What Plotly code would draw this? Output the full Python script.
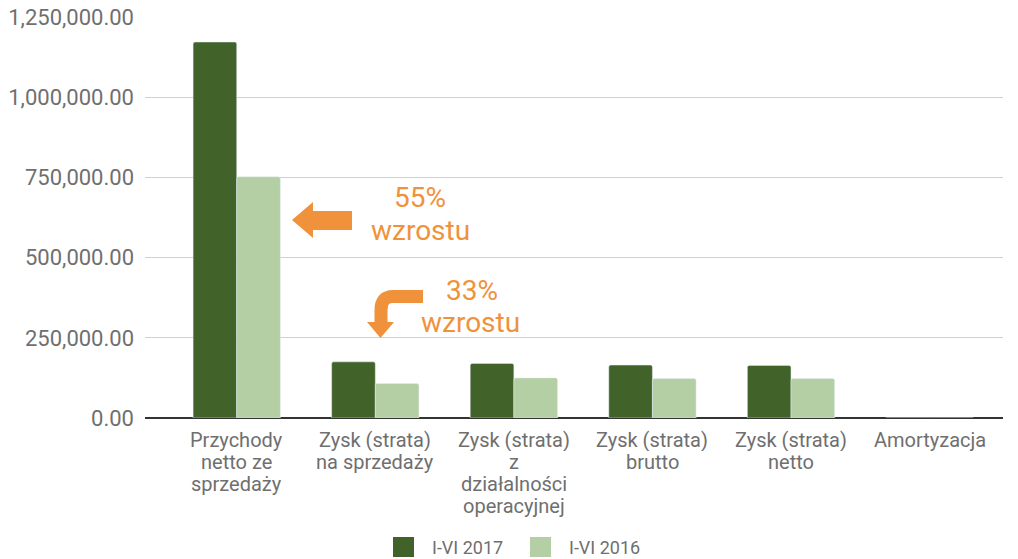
import plotly.graph_objects as go

categories = [
    "Przychody<br>netto ze<br>sprzedaży",
    "Zysk (strata)<br>na sprzedaży",
    "Zysk (strata)<br>z<br>działalności<br>operacyjnej",
    "Zysk (strata)<br>brutto",
    "Zysk (strata)<br>netto",
    "Amortyzacja",
]
series_names = ["I-VI 2017", "I-VI 2016"]
values_2017 = [1172000, 175000, 170000, 165000, 164000, 0]
values_2016 = [752000, 107500, 125000, 123000, 123000, 0]
y_ticks = [0, 250000, 500000, 750000, 1000000, 1250000]
y_tick_labels = ["0.00", "250,000.00", "500,000.00", "750,000.00", "1,000,000.00", "1,250,000.00"]

DARK = "#41632a"
LIGHT = "#b4cfa3"
ORANGE = "#f0923b"
GRAY = "#6f6f6f"
FONT = "Roboto"

W, H = 1018, 559
# plot area in page pixels
PL, PR, PT, PB = 145, 1003, 17, 418
L, R, T, B = PL, W - PR, PT, H - PB
PW, PH = PR - PL, PB - PT

def px(x):
    return (x - PL) / PW

def py(y):
    return (PB - y) / PH

xs = list(range(len(categories)))

fig = go.Figure()
fig.add_bar(x=xs, y=values_2017, name=series_names[0], marker=dict(color=DARK, cornerradius=2), showlegend=False)
fig.add_bar(x=xs, y=values_2016, name=series_names[1], marker=dict(color=LIGHT, cornerradius=2), showlegend=False)

annotations = []
# category labels, one annotation per line for tight line spacing
for i, cat in enumerate(categories):
    for j, line in enumerate(cat.split("<br>")):
        annotations.append(dict(
            x=i, y=0, xref="x", yref="paper", text=line, showarrow=False,
            xanchor="center", yanchor="middle", yshift=-(22 + 22 * j), height=22,
            font=dict(family=FONT, size=20, color=GRAY),
        ))

# callout texts
for txt, cx, cy in [("55%", 420, 197), ("wzrostu", 420, 230), ("33%", 472, 290), ("wzrostu", 470, 322)]:
    annotations.append(dict(x=px(cx), y=py(cy), xref="paper", yref="paper", text=txt, showarrow=False,
                            font=dict(family=FONT, size=28, color=ORANGE), xanchor="center", yanchor="middle",
                            height=32))

# custom legend
legend_items = [(393, 430, DARK, series_names[0]), (530, 567, LIGHT, series_names[1])]
shapes = []
for sx, tx, col, name in legend_items:
    shapes.append(dict(type="rect", xref="paper", yref="paper",
                       x0=px(sx), x1=px(sx + 21), y0=py(557), y1=py(537),
                       fillcolor=col, line=dict(width=0)))
    annotations.append(dict(x=px(tx), y=py(547), xref="paper", yref="paper", text=name, showarrow=False,
                            xanchor="left", yanchor="middle", font=dict(family=FONT, size=18, color=GRAY)))

def path(points, close=True):
    s = "M " + " L ".join(f"{px(x):.5f},{py(y):.5f}" for x, y in points)
    return s + (" Z" if close else "")

# straight left arrow
shapes.append(dict(type="path", xref="paper", yref="paper",
                   path=path([(352, 211), (313, 211), (313, 202), (292, 220), (313, 238), (313, 230), (352, 230)]),
                   fillcolor=ORANGE, line=dict(width=0)))
# curved arrow body
p = (f"M {px(423):.5f},{py(296.5):.5f} L {px(393):.5f},{py(296.5):.5f} "
     f"Q {px(381):.5f},{py(296.5):.5f} {px(381):.5f},{py(310):.5f} L {px(381):.5f},{py(324):.5f}")
shapes.append(dict(type="path", xref="paper", yref="paper", path=p,
                   line=dict(color=ORANGE, width=13), fillcolor="rgba(0,0,0,0)"))
shapes.append(dict(type="path", xref="paper", yref="paper",
                   path=path([(367, 322), (394, 322), (380.5, 338)]),
                   fillcolor=ORANGE, line=dict(width=0)))

fig.update_layout(
    width=W, height=H,
    margin=dict(l=L, r=R, t=T, b=B, pad=0, autoexpand=False),
    paper_bgcolor="white", plot_bgcolor="white",
    barmode="group", bargap=0.37, bargroupgap=0.0,
    font=dict(family=FONT, color=GRAY),
    annotations=annotations, shapes=shapes,
    showlegend=False,
)
fig.update_xaxes(range=[-0.662, 5.53], showticklabels=False, showgrid=False, zeroline=False, showline=False,
                 automargin=False)
fig.update_yaxes(range=[0, 1250000], tickvals=y_ticks, ticktext=y_tick_labels,
                 showgrid=True, gridcolor="#d0d0d0", gridwidth=1,
                 zeroline=True, zerolinecolor="#333333", zerolinewidth=1.5,
                 ticklabelstandoff=10, tickfont=dict(family=FONT, size=22, color=GRAY),
                 showline=False, automargin=False)

fig.write_html("out.html", config={"displayModeBar": False},
               post_script="document.body.style.margin='0';document.body.style.overflow='hidden';")
